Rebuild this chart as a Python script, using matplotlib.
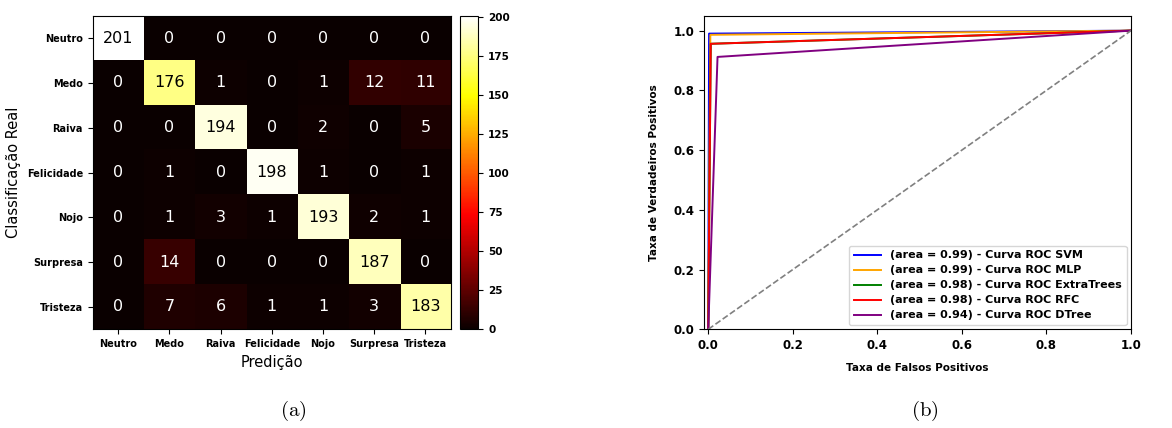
import numpy as np
import matplotlib.pyplot as plt

classes = ['Neutro', 'Medo', 'Raiva', 'Felicidade', 'Nojo', 'Surpresa', 'Tristeza']
conf_matrix = [
    [201, 0, 0, 0, 0, 0, 0],
    [0, 176, 1, 0, 1, 12, 11],
    [0, 0, 194, 0, 2, 0, 5],
    [0, 1, 0, 198, 1, 0, 1],
    [0, 1, 3, 1, 193, 2, 1],
    [0, 14, 0, 0, 0, 187, 0],
    [0, 7, 6, 1, 1, 3, 183],
]

# curvas ROC (fpr, tpr) de cada modelo
roc_names = ['SVM', 'MLP', 'ExtraTrees', 'RFC', 'DTree']
roc_auc = [0.99, 0.99, 0.98, 0.98, 0.94]
roc_fpr = [
    [0.0, 0.002, 1.0],
    [0.0, 0.005, 1.0],
    [0.0, 0.006, 1.0],
    [0.0, 0.006, 1.0],
    [0.0, 0.022, 1.0],
]
roc_tpr = [
    [0.0, 0.99, 1.0],
    [0.0, 0.986, 1.0],
    [0.0, 0.956, 1.0],
    [0.0, 0.956, 1.0],
    [0.0, 0.912, 1.0],
]
roc_colors = ['blue', 'orange', 'green', 'red', 'purple']

fig = plt.figure(figsize=(11.72, 4.28), dpi=100)
W, H = 1172, 428


def box(x0, y0, x1, y1):
    return [x0 / W, 1 - y1 / H, (x1 - x0) / W, (y1 - y0) / H]


# (a) matriz de confusao
ax1 = fig.add_axes(box(92.7, 15.7, 451, 329.3))
cax = fig.add_axes(box(460, 15.7, 478.3, 329.3))
cm = np.array(conf_matrix)
im = ax1.imshow(cm, cmap='hot', vmin=0, vmax=cm.max(), aspect='auto')
for i in range(len(classes)):
    for j in range(len(classes)):
        v = cm[i, j]
        ax1.text(j, i, str(v), ha='center', va='center', fontsize=11.5,
                 color='black' if v > cm.max() / 2 else 'white')
ax1.set_xticks(range(len(classes)))
ax1.set_yticks(range(len(classes)))
ax1.set_xticklabels(classes, fontsize=7, fontweight='bold')
ax1.set_yticklabels(classes, fontsize=7, fontweight='bold')
ax1.set_xlabel('Predição', fontsize=10.5)
ax1.set_ylabel('Classificação Real', fontsize=10.5)
cb = fig.colorbar(im, cax=cax, ticks=range(0, 201, 25))
for t in cb.ax.get_yticklabels():
    t.set_fontsize(7.5)
    t.set_fontweight('bold')

# (b) curvas ROC
ax2 = fig.add_axes(box(704, 15.7, 1131, 329.3))
for name, auc, fpr, tpr, c in zip(roc_names, roc_auc, roc_fpr, roc_tpr, roc_colors):
    ax2.plot(fpr, tpr, color=c, lw=1.4,
             label='(area = %0.2f) - Curva ROC %s' % (auc, name))
ax2.plot([0, 1], [0, 1], color='gray', lw=1.2, linestyle='--')
ax2.set_xlim(-0.01, 1.0)
ax2.set_ylim(0.0, 1.05)
ax2.set_xlabel('Taxa de Falsos Positivos', fontsize=7.5, fontweight='bold', labelpad=8)
ax2.set_ylabel('Taxa de Verdadeiros Positivos', fontsize=7.5, fontweight='bold', labelpad=10)
for t in ax2.get_xticklabels() + ax2.get_yticklabels():
    t.set_fontsize(8.5)
    t.set_fontweight('bold')
leg = ax2.legend(loc='lower right', prop={'size': 8, 'weight': 'bold'},
                 handlelength=2.5, borderaxespad=0.4, labelspacing=0.45)

# legendas das subfiguras
plt.rcParams['mathtext.fontset'] = 'cm'
fig.text(293 / W, 1 - 411 / H, r'$\mathrm{(a)}$', fontsize=15, ha='center', va='center')
fig.text(925 / W, 1 - 411 / H, r'$\mathrm{(b)}$', fontsize=15, ha='center', va='center')

fig.savefig('out.png', dpi=100)
